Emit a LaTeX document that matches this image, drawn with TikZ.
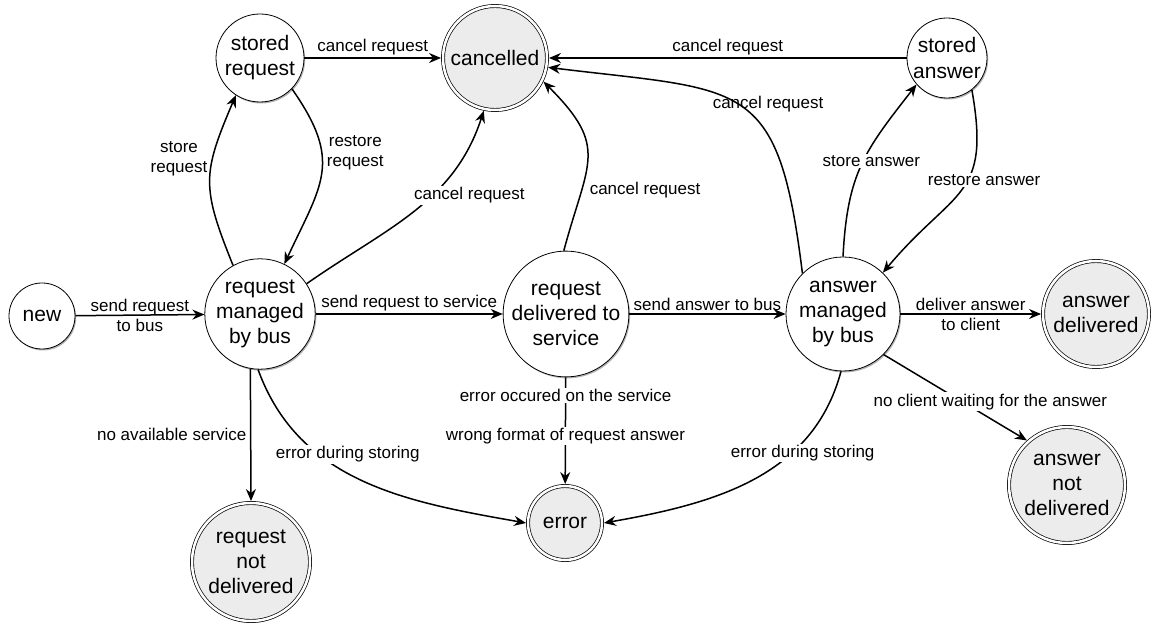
\documentclass[tikz,border=0pt]{standalone}
\usepackage{fontspec}
\setmainfont{Liberation Sans}
\usetikzlibrary{arrows.meta,shadows,positioning}
\definecolor{finalfill}{RGB}{236,236,236}
\begin{document}
\begin{tikzpicture}[x=1pt,y=1pt,
  state/.style={circle, draw=black, line width=0.8pt, fill=white, inner sep=0pt, align=center,
     font=\fontsize{21}{25}\selectfont,
     drop shadow={shadow xshift=1.2pt, shadow yshift=-1.5pt, opacity=0.3, fill=black}},
  final/.style={state, fill=finalfill, double=white, double distance=2.5pt, line width=0.7pt, outer sep=1.95pt},
  tr/.style={line width=1.5pt, -{Stealth[length=12pt,width=10pt]}},
  lbl/.style={font=\fontsize{17}{20}\selectfont, inner sep=1.5pt, align=center},
  lblw/.style={lbl, fill=white},
]
\useasboundingbox (0,0) rectangle (1157,624);

\node[state, minimum size=66pt] (new) at (42,308) {new};
\node[state, minimum size=88pt] (sreq) at (260,566) {stored\\request};
\node[final, minimum size=104pt] (canc) at (495,566) {cancelled};
\node[state, minimum size=110pt] (rmb) at (260,310) {request\\managed\\by bus};
\node[state, minimum size=122pt] (rdts) at (566,310) {request\\delivered to\\service};
\node[state, minimum size=114pt] (amb) at (843,310) {answer\\managed\\by bus};
\node[state, minimum size=80pt] (sans) at (947,566) {stored\\answer};
\node[final, minimum size=106pt] (ad) at (1096,310) {answer\\delivered};
\node[final, minimum size=74pt] (err) at (565,101) {error};
\node[final, minimum size=118pt] (rnd) at (251,62) {request\\not\\delivered};
\node[final, minimum size=116pt] (and) at (1067,139) {answer\\not\\delivered};

\draw[tr] (new) -- node[lbl]{send request\\to bus} (rmb);
\draw[tr] (sreq) -- node[lbl, above=1pt]{cancel request} (canc);
\draw[tr] (sans) -- node[lbl, above=1pt]{cancel request} (canc);
\draw[tr] (rmb) -- node[lbl, above=1pt]{send request to service} (rdts);
\draw[tr] (rdts) -- node[lbl, above=1pt]{send answer to bus} (amb);
\draw[tr] (amb) -- node[lbl]{deliver answer\\to client} (ad);
\draw[tr] (rmb.119) to[out=112,in=247,looseness=1.28] node[lbl,pos=0.65,left=3pt]{store\\request} (sreq.237);
\draw[tr] (sreq.-44) to[out=-55,in=65,looseness=1.3] node[lbl,pos=0.36,right=3pt]{restore\\request} (rmb.64);
\draw[tr] (rmb.33) to[out=35,in=252] node[lblw,pos=0.6,xshift=38pt]{cancel request} (canc.258);
\draw[tr] (rdts.92) to[out=75,in=-45,looseness=1.4] node[lbl,pos=0.28,right=6pt]{cancel request} (canc.-26);
\draw[tr] (amb.135) to[out=97,in=-7,looseness=1.55] node[lbl,pos=0.3,xshift=-6pt,yshift=42pt]{cancel request} (canc.-10);
\draw[tr] (amb.90) to[out=87,in=232,looseness=1.15] node[lblw,pos=0.52,xshift=8pt]{store answer} (sans.221);
\draw[tr] (sans.-52) to[out=-80,in=50,looseness=1.4] node[lblw,pos=0.42,xshift=16pt]{restore answer} (amb.46);
\draw[tr] (amb.-45) -- node[lblw,pos=0.55,xshift=28pt]{no client waiting for the answer} (and.132);
\draw[tr] (amb.268) to[out=255,in=10] node[lblw,pos=0.33,xshift=11pt]{error during storing} (err.0);
\draw[tr] (rmb.268) to[out=-70,in=170] node[lblw,pos=0.33,xshift=29pt]{error during storing} (err.180);
\draw[tr] (rmb.260) -- node[lbl,left=2pt]{no available service} (rnd.north);
\draw[tr] (rdts) -- node[lblw,pos=0.17]{error occured on the service} node[lblw,pos=0.55]{wrong format of request answer} (err);
\end{tikzpicture}
\end{document}
